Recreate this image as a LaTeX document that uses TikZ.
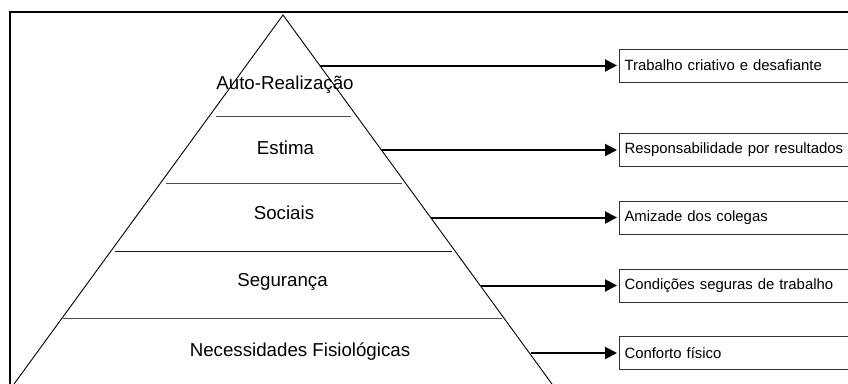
\documentclass[tikz,border=0pt]{standalone}
\usepackage{fontspec}
\setmainfont{Liberation Sans}
\usetikzlibrary{arrows.meta}
\tikzset{
  level/.style={font=\fontsize{18.7}{22}\selectfont, inner sep=0pt},
  sep/.style={line width=1pt, draw=black!70},
  itembox/.style={draw=black!80, line width=1pt, anchor=west, minimum width=260pt,
    minimum height=33pt, inner xsep=4.5pt, align=left, text width=250pt,
    font=\fontsize{14.9}{18}\selectfont},
  conn/.style={line width=2pt, -{Triangle[length=12pt,width=12pt]}, shorten >=2pt}
}
\begin{document}
\begin{tikzpicture}[x=1pt,y=-1pt]
\useasboundingbox (0,0) rectangle (848,383);
\clip (0,0) rectangle (848,383);
% frame
\draw[line width=2pt] (10,420) -- (10,12) -- (900,12);
% pyramid
\coordinate (apex) at (283,15);
\coordinate (bl) at (-2,406);
\coordinate (br) at (568,406);
\draw[line width=0.9pt] (bl) -- (apex) -- (br);
% separators
\draw[sep] (216,116) -- (351,116);
\draw[sep] (166,183) -- (402,183);
\draw[sep, draw=black!90] (115,251) -- (452,251);
\draw[sep] (63,318) -- (502,318);
% level labels
\node[level] (l1) at (285,85) {Auto-Realização};
\node[level] (l2) at (285.5,148) {Estima};
\node[level] (l3) at (284,213) {Sociais};
\node[level] (l4) at (282.5,282) {Segurança};
\node[level] (l5) at (300,352) {Necessidades Fisiológicas};
% boxes
\node[itembox] (b1) at (619,65.5) {Trabalho criativo e desafiante};
\node[itembox] (b2) at (619,150) {Responsabilidade por resultados};
\node[itembox] (b3) at (619,217.5) {Amizade dos colegas};
\node[itembox] (b4) at (619,285.5) {Condições seguras de trabalho};
\node[itembox] (b5) at (619,353) {Conforto físico};
% arrow start points on the pyramid edge
\coordinate (s1) at (320,65.5);
\coordinate (s2) at (382,150);
\coordinate (s3) at (431,217.5);
\coordinate (s4) at (481,285.5);
\coordinate (s5) at (531,353);
\draw[conn] (s1) -- (b1.west);
\draw[conn] (s2) -- (b2.west);
\draw[conn] (s3) -- (b3.west);
\draw[conn] (s4) -- (b4.west);
\draw[conn] (s5) -- (b5.west);
\end{tikzpicture}
\end{document}
